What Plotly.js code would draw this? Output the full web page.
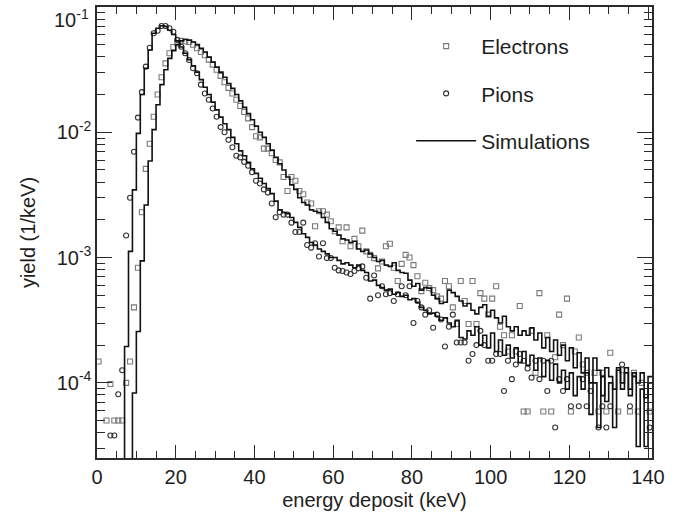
<!DOCTYPE html>
<html>
<head>
<meta charset="utf-8">
<script src="https://cdn.plot.ly/plotly-3.0.1.min.js"></script>
<style>
html,body{margin:0;padding:0;background:#fff;}
#chart{width:686px;height:522px;}
</style>
</head>
<body>
<div id="chart"></div>
<script>
// 1 keV bins, lower edges 0..140 keV
const binLowEdge = Array.from({length: 141}, (_, i) => i);
// measured data points sit slightly left of the bin centre
const dataEnergy = binLowEdge.map(e => e + 0.4);

// Measured yield (1/keV), electrons (null = empty bin)
const electronData = [
 1.48e-4, null, 5.0e-5, 9.8e-5, 5.0e-5, 5.0e-5, 5.0e-5, 1.0e-4, 1.48e-4, 4.0e-4,
 8.3e-4, 2.3e-3, 5.1e-3, 8.1e-3, 1.33e-2, 2.0e-2, 2.75e-2, 3.55e-2, 4.27e-2, 4.79e-2,
 5.13e-2, 5.37e-2, 5.3e-2, 5.25e-2, 5.0e-2, 4.68e-2, 4.37e-2, 4.12e-2, 3.8e-2, 3.47e-2,
 3.16e-2, 2.82e-2, 2.51e-2, 2.26e-2, 2.04e-2, 1.82e-2, 1.62e-2, 1.45e-2, 1.29e-2, 1.10e-2,
 9.3e-3, 9.1e-3, 7.4e-3, 7.4e-3, 6.8e-3, 6.0e-3, 5.75e-3, 4.4e-3, 3.4e-3, 4.4e-3,
 4.1e-3, 3.4e-3, 3.2e-3, 2.75e-3, 2.7e-3, 1.78e-3, 2.34e-3, 2.34e-3, 2.2e-3, 1.95e-3,
 1.62e-3, 1.74e-3, 1.35e-3, 1.74e-3, 1.23e-3, 1.41e-3, 1.23e-3, 1.64e-3, 1.12e-3, 1.05e-3,
 9.9e-4, 8.2e-4, 9.3e-4, 1.23e-3, 1.29e-3, 8.3e-4, 6.5e-4, 8.9e-4, 1.05e-3, 1.0e-3,
 8.7e-4, 7.1e-4, 5.4e-4, 6.3e-4, 5.7e-4, 5.5e-4, 4.9e-4, 4.7e-4, 6.5e-4, 5.9e-4,
 4.0e-4, 2.95e-4, 6.5e-4, 4.5e-4, 2.95e-4, 6.5e-4, 2.95e-4, 5.2e-4, 4.7e-4, 3.5e-4,
 4.7e-4, 5.9e-4, 2.8e-4, 2.4e-4, 1.78e-4, 2.4e-4, 1.78e-4, 4.1e-4, 5.9e-5, 5.9e-5,
 2.6e-4, 1.2e-4, 5.2e-4, 5.9e-5, 2.4e-4, 5.9e-5, 1.6e-4, 3.5e-4, 2.0e-4, 4.7e-4,
 5.9e-5, 1.78e-4, 2.3e-4, 1.4e-4, 1.2e-4, null, 1.2e-4, 5.9e-5, 1.2e-4, 5.9e-5,
 1.74e-4, null, 5.9e-5, 1.26e-4, null, 5.9e-5, 1.2e-4, 5.9e-5, 1.0e-4, null,
 5.9e-5
];

// Measured yield (1/keV), pions
const pionData = [
 null, null, null, 3.8e-5, 3.8e-5, 8.1e-5, 1.26e-4, 1.5e-3, 3.0e-3, 7.0e-3,
 1.31e-2, 2.09e-2, 3.34e-2, 4.73e-2, 6.17e-2, 6.46e-2, 7.05e-2, 7.05e-2, 6.76e-2, 6.35e-2,
 5.46e-2, 4.82e-2, 4.27e-2, 3.78e-2, 3.24e-2, 2.96e-2, 2.40e-2, 2.04e-2, 1.82e-2, 1.55e-2,
 1.33e-2, 1.10e-2, 1.00e-2, 8.7e-3, 7.6e-3, 6.5e-3, 6.3e-3, 5.8e-3, 5.4e-3, 4.8e-3,
 4.1e-3, 3.9e-3, 3.5e-3, 3.3e-3, 2.7e-3, 2.1e-3, 2.3e-3, 2.2e-3, 2.2e-3, 1.9e-3,
 1.6e-3, 1.6e-3, 1.9e-3, 1.26e-3, 1.2e-3, 1.3e-3, 1.02e-3, 1.3e-3, 9.9e-4, 9.9e-4,
 8.3e-4, 7.9e-4, 7.8e-4, 7.6e-4, 7.4e-4, 7.8e-4, 8.2e-4, 8.5e-4, 6.9e-4, 4.7e-4,
 7.2e-4, 5.0e-4, 5.9e-4, 5.1e-4, 5.2e-4, 4.5e-4, 5.1e-4, 5.9e-4, 5.0e-4, 5.9e-4,
 3.0e-4, 4.5e-4, 4.0e-4, 3.5e-4, 3.8e-4, 2.75e-4, 3.5e-4, 3.2e-4, 1.95e-4, 2.8e-4,
 3.5e-4, 2.1e-4, 2.1e-4, 2.1e-4, 1.5e-4, 1.7e-4, 2.0e-4, 2.6e-4, 2.0e-4, 1.5e-4,
 1.5e-4, 1.7e-4, 1.7e-4, 8.6e-5, 1.5e-4, 1.07e-4, 1.4e-4, 1.7e-4, 1.5e-4, 1.3e-4,
 1.1e-4, 1.5e-4, 1.07e-4, 1.5e-4, 8.6e-5, 1.5e-4, 4.4e-5, 1.07e-4, 8.6e-5, 1.07e-4,
 6.5e-5, null, 6.5e-5, 1.07e-4, 6.5e-5, 8.6e-5, null, 4.4e-5, 6.5e-5, 4.4e-5,
 6.5e-5, null, null, 1.4e-4, null, 6.5e-5, null, null, null, null,
 4.4e-5
];

// Simulated yield per bin (1/keV), electrons (1e-7 = empty bin)
const electronSim = [
 1e-7, 1e-7, 1e-7, 1e-7, 1e-7, 1e-7, 1e-7, 1e-7, 1e-7, 8.3e-5,
 2.57e-4, 9.4e-4, 2.63e-3, 5.9e-3, 1.05e-2, 1.66e-2, 2.4e-2, 3.16e-2, 3.89e-2, 4.47e-2,
 5.01e-2, 5.37e-2, 5.5e-2, 5.43e-2, 5.25e-2, 5.01e-2, 4.68e-2, 4.37e-2, 3.98e-2, 3.63e-2,
 3.31e-2, 3.02e-2, 2.75e-2, 2.45e-2, 2.24e-2, 2.0e-2, 1.78e-2, 1.58e-2, 1.41e-2, 1.26e-2,
 1.12e-2, 1.0e-2, 9.1e-3, 8.1e-3, 7.2e-3, 6.3e-3, 5.6e-3, 5.0e-3, 4.4e-3, 3.8e-3,
 3.5e-3, 3.0e-3, 2.75e-3, 2.63e-3, 2.4e-3, 2.34e-3, 2.29e-3, 2.09e-3, 1.91e-3, 1.70e-3,
 1.62e-3, 1.51e-3, 1.41e-3, 1.38e-3, 1.32e-3, 1.35e-3, 1.17e-3, 1.12e-3, 1.15e-3, 1.07e-3,
 1.0e-3, 9.3e-4, 9.5e-4, 8.7e-4, 8.5e-4, 9.1e-4, 7.9e-4, 7.6e-4, 7.5e-4, 6.6e-4,
 5.9e-4, 6.2e-4, 5.5e-4, 5.75e-4, 5.7e-4, 5.0e-4, 4.7e-4, 4.3e-4, 4.4e-4, 5.5e-4,
 5.25e-4, 4.9e-4, 4.5e-4, 4.1e-4, 4.3e-4, 3.8e-4, 3.55e-4, 4.0e-4, 4.2e-4, 3.4e-4,
 3.8e-4, 3.3e-4, 3.0e-4, 3.4e-4, 2.8e-4, 2.6e-4, 2.8e-4, 2.4e-4, 2.6e-4, 2.4e-4,
 2.75e-4, 2.2e-4, 2.5e-4, 1.9e-4, 2.3e-4, 1.78e-4, 2.2e-4, 1.66e-4, 2.0e-4, 1.5e-4,
 1.9e-4, 1.32e-4, 1.74e-4, 1.2e-4, 1.58e-4, 1.0e-4, 1.58e-4, 1.26e-4, 7.9e-5, 1.32e-4,
 1.12e-4, 8.9e-5, 1.32e-4, 1.0e-4, 1.2e-4, 8.9e-5, 1.12e-4, 1.0e-4, 1.2e-4, 7.6e-5,
 1.0e-4
];

// Simulated yield per bin (1/keV), pions
const pionSim = [
 1e-7, 1e-7, 1e-7, 1e-7, 1e-7, 1e-7, 1e-7, 1.95e-4, 1.12e-3, 3.47e-3,
 9.8e-3, 2.0e-2, 3.24e-2, 4.54e-2, 6.17e-2, 6.76e-2, 7.08e-2, 7.0e-2, 6.53e-2, 6.03e-2,
 5.37e-2, 4.79e-2, 4.27e-2, 3.8e-2, 3.39e-2, 3.02e-2, 2.63e-2, 2.29e-2, 2.0e-2, 1.74e-2,
 1.51e-2, 1.32e-2, 1.17e-2, 1.05e-2, 9.1e-3, 8.1e-3, 7.1e-3, 6.5e-3, 5.75e-3, 5.1e-3,
 4.7e-3, 4.3e-3, 3.9e-3, 3.55e-3, 3.24e-3, 2.82e-3, 2.4e-3, 2.29e-3, 2.24e-3, 2.09e-3,
 1.91e-3, 1.74e-3, 1.55e-3, 1.45e-3, 1.32e-3, 1.26e-3, 1.17e-3, 1.12e-3, 1.07e-3, 1.0e-3,
 1.0e-3, 9.5e-4, 8.9e-4, 9.1e-4, 8.7e-4, 8.3e-4, 8.7e-4, 7.9e-4, 7.6e-4, 6.5e-4,
 6.6e-4, 6.0e-4, 5.75e-4, 5.5e-4, 5.6e-4, 5.1e-4, 5.25e-4, 4.9e-4, 5.0e-4, 4.6e-4,
 4.7e-4, 4.4e-4, 4.0e-4, 3.8e-4, 3.55e-4, 3.6e-4, 3.4e-4, 3.16e-4, 3.3e-4, 3.0e-4,
 2.8e-4, 3.16e-4, 2.3e-4, 2.24e-4, 2.6e-4, 2.4e-4, 2.8e-4, 2.0e-4, 2.4e-4, 1.9e-4,
 2.5e-4, 1.78e-4, 2.2e-4, 1.66e-4, 2.0e-4, 1.58e-4, 1.9e-4, 1.45e-4, 1.78e-4, 1.38e-4,
 1.66e-4, 1.26e-4, 1.58e-4, 1.12e-4, 1.51e-4, 1.05e-4, 1.41e-4, 1.0e-4, 1.26e-4, 8.9e-5,
 1.2e-4, 7.9e-5, 1.12e-4, 8.9e-5, 1.2e-4, 5.6e-5, 1.0e-4, 4.4e-5, 1.12e-4, 7.1e-5,
 1.0e-4, 4.4e-5, 1.26e-4, 8.9e-5, 1.32e-4, 7.9e-5, 1.2e-4, 3.1e-5, 8.9e-5, 3.1e-5,
 1.12e-4
];

// y tick labels (10^-1 sits on the top frame, drawn as a label just below it)
const yTickVals = [1e-4, 1e-3, 1e-2];
const yTickText = ['10<sup>-4</sup>', '10<sup>-3</sup>', '10<sup>-2</sup>'];
const yTopLabel = '10<sup>-1</sup>';
const xTickVals = [0, 20, 40, 60, 80, 100, 120, 140];

// step-histogram helper: edges + closing edge
function stepX(edges) { return edges.concat([edges[edges.length - 1] + 1]); }
function stepY(vals) { return vals.concat([vals[vals.length - 1]]); }

// minor tick positions on log axis (2..9 x 10^n)
const yMinor = [];
for (let e = -5; e <= -2; e++) for (let m = 2; m <= 9; m++) yMinor.push(m * Math.pow(10, e));

const FONT = '"Liberation Sans", Arial, Helvetica, sans-serif';
const AX = '#2b2b2b';
const TXT = '#1e1e1e';

const traces = [
  {
    x: dataEnergy, y: electronData, type: 'scatter', mode: 'markers', name: 'Electrons',
    legendgroup: 'e',
    marker: {symbol: 'square-open', size: 5, color: '#7a7a7a', line: {width: 1.1, color: '#7a7a7a'}}
  },
  {
    x: dataEnergy, y: pionData, type: 'scatter', mode: 'markers', name: 'Pions',
    legendgroup: 'p',
    marker: {symbol: 'circle-open', size: 5, color: '#333', line: {width: 1.1, color: '#333'}}
  },
  {
    x: stepX(binLowEdge), y: stepY(electronSim), type: 'scatter', mode: 'lines', name: 'Simulations',
    legendgroup: 's', line: {shape: 'hv', color: '#111', width: 1.6}
  },
  {
    x: stepX(binLowEdge), y: stepY(pionSim), type: 'scatter', mode: 'lines', name: 'Simulations (pions)',
    legendgroup: 's', showlegend: false, line: {shape: 'hv', color: '#111', width: 1.6}
  }
];

const layout = {
  width: 686, height: 522,
  margin: {l: 97, r: 34, t: 7, b: 64, pad: 0},
  paper_bgcolor: '#fff', plot_bgcolor: '#fff',
  font: {family: FONT, size: 21, color: TXT},
  showlegend: true,
  legend: {
    x: 0.566, y: 0.958, xanchor: 'left', yanchor: 'top',
    bgcolor: 'rgba(0,0,0,0)', borderwidth: 0,
    font: {family: FONT, size: 21, color: TXT},
    tracegroupgap: 17, itemwidth: 60
  },
  xaxis: {
    range: [0, 141], autorange: false,
    showgrid: false, zeroline: false,
    showline: true, linecolor: AX, linewidth: 1.6, mirror: 'allticks',
    ticks: 'inside', ticklen: 13, tickwidth: 1, tickcolor: AX,
    tickmode: 'array', tickvals: xTickVals,
    tickfont: {family: FONT, size: 20, color: TXT},
    minor: {dtick: 5, tick0: 0, ticks: 'inside', ticklen: 7, tickwidth: 1, tickcolor: AX, showgrid: false},
    title: {text: 'energy deposit (keV)', font: {family: FONT, size: 20, color: TXT}, standoff: 6}
  },
  yaxis: {
    type: 'log', range: [-4.6, -1], autorange: false,
    showgrid: false, zeroline: false,
    showline: true, linecolor: AX, linewidth: 1.6, mirror: 'allticks',
    ticks: 'inside', ticklen: 15, tickwidth: 1, tickcolor: AX,
    tickmode: 'array', tickvals: yTickVals, ticktext: yTickText,
    tickfont: {family: FONT, size: 20, color: TXT},
    minor: {tickmode: 'array', tickvals: yMinor, ticks: 'inside', ticklen: 8, tickwidth: 1, tickcolor: AX, showgrid: false},
    title: {text: 'yield (1/keV)', font: {family: FONT, size: 20, color: TXT}, standoff: 15}
  },
  annotations: [{
    text: yTopLabel, xref: 'paper', yref: 'paper', x: 0, y: 1,
    xanchor: 'right', yanchor: 'middle', xshift: -6, yshift: -11,
    showarrow: false, font: {family: FONT, size: 20, color: TXT}
  }]
};

Plotly.newPlot('chart', traces, layout, {staticPlot: true, displayModeBar: false});
</script>
</body>
</html>
